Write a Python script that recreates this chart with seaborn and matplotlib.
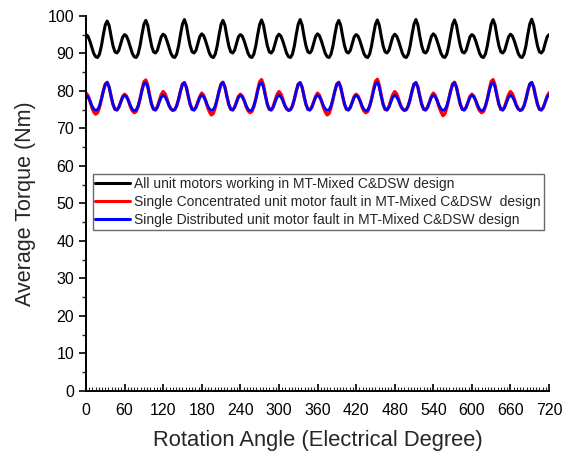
import numpy as np
import pandas as pd
import matplotlib
matplotlib.use("Agg")
import matplotlib.pyplot as plt
from matplotlib.ticker import MultipleLocator
import seaborn as sns

# rotation angle grid (electrical degrees), 3 deg steps
angle = np.arange(0, 721, 3)

# average torque (Nm), one row per 60 deg
all_working = [
    95.0, 94.6, 93.3, 91.6, 90.0, 89.1, 88.9, 89.8, 92.0, 95.0, 97.6, 98.6, 97.4, 94.6, 92.0, 90.4, 90.1, 90.8, 92.6, 94.3,
    95.0, 94.6, 93.3, 91.6, 90.0, 89.1, 88.9, 89.8, 92.0, 95.0, 97.7, 98.8, 97.5, 94.6, 92.0, 90.4, 90.1, 90.8, 92.6, 94.4,
    95.1, 94.7, 93.3, 91.6, 90.0, 89.1, 88.9, 89.8, 92.0, 95.1, 97.8, 99.0, 97.6, 94.6, 92.0, 90.4, 90.1, 90.8, 92.7, 94.5,
    95.2, 94.7, 93.3, 91.6, 90.0, 89.1, 88.9, 89.8, 92.0, 95.0, 97.7, 98.8, 97.5, 94.6, 92.0, 90.4, 90.1, 90.8, 92.6, 94.4,
    95.0, 94.6, 93.3, 91.6, 90.0, 89.1, 88.9, 89.8, 92.0, 95.0, 97.7, 98.9, 97.5, 94.6, 92.0, 90.4, 90.1, 90.8, 92.6, 94.4,
    95.1, 94.6, 93.3, 91.6, 90.0, 89.1, 88.9, 89.8, 92.0, 95.1, 97.8, 99.0, 97.6, 94.6, 92.0, 90.4, 90.1, 90.8, 92.7, 94.5,
    95.2, 94.7, 93.3, 91.6, 90.0, 89.1, 88.9, 89.8, 92.0, 95.0, 97.7, 98.8, 97.5, 94.6, 92.0, 90.4, 90.1, 90.8, 92.6, 94.4,
    95.0, 94.6, 93.3, 91.6, 90.0, 89.1, 88.9, 89.8, 92.0, 95.0, 97.7, 98.9, 97.5, 94.6, 92.0, 90.4, 90.1, 90.8, 92.6, 94.4,
    95.1, 94.6, 93.3, 91.6, 90.0, 89.1, 88.9, 89.8, 92.0, 95.1, 97.8, 99.0, 97.6, 94.6, 92.0, 90.4, 90.1, 90.8, 92.7, 94.5,
    95.2, 94.7, 93.3, 91.6, 90.0, 89.1, 88.9, 89.8, 92.0, 95.0, 97.7, 98.9, 97.5, 94.6, 92.0, 90.4, 90.1, 90.8, 92.6, 94.4,
    95.0, 94.6, 93.3, 91.6, 90.0, 89.1, 88.9, 89.8, 92.0, 95.0, 97.8, 99.0, 97.6, 94.6, 92.0, 90.4, 90.1, 90.8, 92.6, 94.4,
    95.1, 94.6, 93.3, 91.6, 90.0, 89.1, 88.9, 89.8, 92.0, 95.1, 97.8, 99.1, 97.6, 94.6, 92.0, 90.4, 90.1, 90.8, 92.7, 94.4,
    95.0,
]

concentrated_fault = [
    79.4, 78.8, 77.4, 75.7, 74.4, 73.8, 74.2, 75.6, 77.8, 80.0, 81.8, 82.3, 81.0, 78.6, 76.4, 75.1, 74.9, 75.6, 77.0, 78.5,
    79.1, 78.6, 77.4, 75.8, 74.7, 74.2, 74.5, 75.8, 77.8, 80.3, 82.4, 82.9, 81.5, 78.8, 76.4, 75.1, 74.9, 75.8, 77.4, 79.0,
    79.8, 79.2, 77.8, 76.2, 75.2, 74.8, 75.0, 76.0, 77.8, 80.0, 81.8, 82.2, 81.0, 78.6, 76.4, 75.1, 74.9, 75.6, 77.0, 78.5,
    79.4, 78.8, 77.4, 75.7, 74.4, 73.6, 74.0, 75.6, 77.8, 80.0, 81.8, 82.3, 81.0, 78.6, 76.4, 75.1, 74.9, 75.6, 77.0, 78.5,
    79.1, 78.6, 77.4, 75.8, 74.7, 74.2, 74.5, 75.8, 77.8, 80.3, 82.4, 83.0, 81.5, 78.8, 76.4, 75.1, 74.9, 75.8, 77.4, 79.0,
    79.8, 79.2, 77.8, 76.2, 75.2, 74.8, 75.0, 76.0, 77.8, 80.0, 81.8, 82.2, 81.0, 78.6, 76.4, 75.1, 74.9, 75.6, 77.0, 78.5,
    79.4, 78.8, 77.4, 75.7, 74.4, 73.6, 74.0, 75.6, 77.8, 80.0, 81.8, 82.3, 81.0, 78.6, 76.4, 75.1, 74.9, 75.6, 77.0, 78.5,
    79.1, 78.6, 77.4, 75.8, 74.7, 74.2, 74.5, 75.8, 77.8, 80.3, 82.5, 83.1, 81.5, 78.8, 76.4, 75.1, 74.9, 75.8, 77.4, 79.0,
    79.8, 79.2, 77.8, 76.2, 75.2, 74.8, 75.0, 76.0, 77.8, 80.0, 81.8, 82.2, 81.0, 78.6, 76.4, 75.1, 74.9, 75.6, 77.0, 78.5,
    79.4, 78.8, 77.4, 75.7, 74.4, 73.4, 73.9, 75.6, 77.8, 80.0, 81.8, 82.3, 81.0, 78.6, 76.4, 75.1, 74.9, 75.6, 77.0, 78.5,
    79.1, 78.6, 77.4, 75.8, 74.7, 74.2, 74.5, 75.8, 77.8, 80.3, 82.5, 83.0, 81.5, 78.8, 76.4, 75.1, 74.9, 75.8, 77.4, 79.0,
    79.8, 79.2, 77.8, 76.2, 75.2, 74.8, 75.0, 76.0, 77.8, 80.0, 81.8, 82.2, 81.0, 78.6, 76.4, 75.1, 74.9, 75.6, 77.0, 78.6,
    79.5,
]

distributed_fault = [
    78.8, 78.4, 77.4, 76.1, 75.2, 74.8, 75.0, 76.0, 77.8, 80.0, 81.8, 82.2, 81.0, 78.6, 76.4, 75.1, 74.9, 75.6, 77.0, 78.3,
    78.8, 78.4, 77.4, 76.1, 75.1, 74.7, 74.9, 76.0, 77.8, 80.0, 81.8, 82.2, 81.0, 78.6, 76.4, 75.1, 74.9, 75.6, 77.0, 78.3,
    78.8, 78.4, 77.4, 76.1, 75.2, 74.8, 75.0, 76.0, 77.8, 80.0, 81.8, 82.2, 81.0, 78.6, 76.4, 75.1, 74.9, 75.6, 77.0, 78.3,
    78.8, 78.4, 77.4, 76.1, 75.2, 74.8, 75.0, 76.0, 77.8, 80.0, 81.8, 82.3, 81.0, 78.6, 76.4, 75.1, 74.9, 75.6, 77.0, 78.3,
    78.8, 78.4, 77.4, 76.1, 75.1, 74.7, 74.9, 76.0, 77.8, 80.0, 81.8, 82.2, 81.0, 78.6, 76.4, 75.1, 74.9, 75.6, 77.0, 78.3,
    78.8, 78.4, 77.4, 76.1, 75.2, 74.8, 75.0, 76.0, 77.8, 80.0, 81.8, 82.2, 81.0, 78.6, 76.4, 75.1, 74.9, 75.6, 77.0, 78.3,
    78.8, 78.4, 77.4, 76.1, 75.2, 74.8, 75.0, 76.0, 77.8, 80.0, 81.8, 82.2, 81.0, 78.6, 76.4, 75.1, 74.9, 75.6, 77.0, 78.3,
    78.8, 78.4, 77.4, 76.1, 75.1, 74.7, 74.9, 76.0, 77.8, 80.0, 81.8, 82.3, 81.0, 78.6, 76.4, 75.1, 74.9, 75.6, 77.0, 78.3,
    78.8, 78.4, 77.4, 76.1, 75.2, 74.8, 75.0, 76.0, 77.8, 80.0, 81.8, 82.2, 81.0, 78.6, 76.4, 75.1, 74.9, 75.6, 77.0, 78.3,
    78.8, 78.4, 77.4, 76.1, 75.2, 74.8, 75.0, 76.0, 77.8, 80.0, 81.8, 82.2, 81.0, 78.6, 76.4, 75.1, 74.9, 75.6, 77.0, 78.3,
    78.8, 78.4, 77.4, 76.1, 75.1, 74.7, 74.9, 76.0, 77.8, 80.0, 81.8, 82.2, 81.0, 78.6, 76.4, 75.1, 74.9, 75.6, 77.0, 78.3,
    78.8, 78.4, 77.4, 76.1, 75.2, 74.8, 75.0, 76.0, 77.8, 80.0, 81.8, 82.3, 81.0, 78.6, 76.4, 75.1, 74.9, 75.6, 77.0, 78.4,
    78.9,
]

labels = [
    "All unit motors working in MT-Mixed C&DSW design",
    "Single Concentrated unit motor fault in MT-Mixed C&DSW  design",
    "Single Distributed unit motor fault in MT-Mixed C&DSW design",
]
colors = ["black", "red", "blue"]
widths = [2.2, 2.4, 2.0]

df = pd.concat([
    pd.DataFrame({"angle": angle, "torque": all_working, "series": labels[0]}),
    pd.DataFrame({"angle": angle, "torque": concentrated_fault, "series": labels[1]}),
    pd.DataFrame({"angle": angle, "torque": distributed_fault, "series": labels[2]}),
])

sns.set_style("ticks")
plt.rcParams["font.family"] = ["Liberation Sans", "DejaVu Sans"]

fig = plt.figure(figsize=(5.62, 4.53), dpi=100)
ax = fig.add_axes([0.153, 0.137, 0.824, 0.828])

for lab, col, lw in zip(labels, colors, widths):
    sns.lineplot(data=df[df["series"] == lab], x="angle", y="torque",
                 color=col, linewidth=lw, label=lab, ax=ax)

ax.set_xlim(0, 720)
ax.set_ylim(0, 100)
ax.xaxis.set_major_locator(MultipleLocator(60))
ax.xaxis.set_minor_locator(MultipleLocator(5))
ax.yaxis.set_major_locator(MultipleLocator(10))
ax.yaxis.set_minor_locator(MultipleLocator(5))
ax.tick_params(axis="x", which="major", direction="in", length=5, width=1.2,
               labelsize=11.5, pad=9, colors="black")
ax.tick_params(axis="x", which="minor", direction="in", length=3, width=0.8)
ax.tick_params(axis="y", which="major", direction="out", length=5, width=1.2,
               labelsize=11.5, colors="black")
ax.tick_params(axis="y", which="minor", direction="out", length=3, width=1.0)

sns.despine(ax=ax)
for side in ["left", "bottom"]:
    ax.spines[side].set_linewidth(1.4)
    ax.spines[side].set_color("black")

ax.set_xlabel("Rotation Angle (Electrical Degree)", fontsize=15.8, labelpad=8)
ax.set_ylabel("Average Torque (Nm)", fontsize=15.5, labelpad=8)

leg = ax.legend(loc="upper left", bbox_to_anchor=(0.0145, 0.579),
                borderaxespad=0, fontsize=10.0, handlelength=2.5,
                handletextpad=0.3, labelspacing=0.3, borderpad=0.2,
                frameon=True, fancybox=False)
leg.get_frame().set_edgecolor("#444444")
leg.get_frame().set_linewidth(1.0)
for h in leg.get_lines():
    h.set_linewidth(2.2)

fig.savefig("out.png", dpi=100)
